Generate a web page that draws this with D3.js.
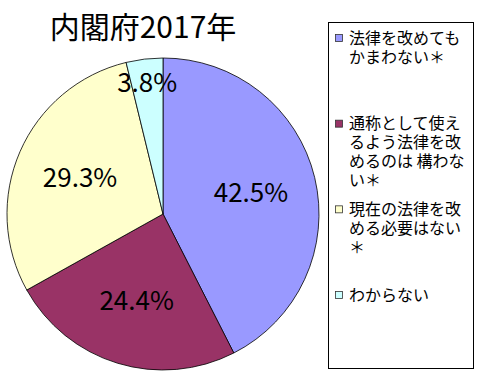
<!DOCTYPE html>
<html>
<head>
<meta charset="utf-8">
<script src="https://cdn.jsdelivr.net/npm/d3@7"></script>
<style>
  body { margin: 0; background: #fff; }
  text { font-family: "Noto Sans CJK JP", "Noto Sans", sans-serif; }
</style>
</head>
<body>
<div id="chart"></div>
<script>
var title = "内閣府2017年";
var categories = [
  "法律を改めてもかまわない＊",
  "通称として使えるよう法律を改めるのは 構わない＊",
  "現在の法律を改める必要はない＊",
  "わからない"
];
var values = [42.5, 24.4, 29.3, 3.8];
var colors = ["#9999ff", "#993366", "#ffffcc", "#ccffff"];

var width = 480, height = 377;
var cx = 163, cy = 214, radius = 156;

var svg = d3.select("#chart")
  .append("svg")
    .attr("width", width)
    .attr("height", height);

svg.append("rect")
    .attr("width", width)
    .attr("height", height)
    .attr("fill", "#fff");

svg.append("text")
    .attr("x", 143)
    .attr("y", 38)
    .attr("text-anchor", "middle")
    .style("font-size", "30px")
    .text(title);

var color = d3.scaleOrdinal()
    .domain(categories)
    .range(colors);

var pie = d3.pie()
    .sort(null)
    .value(function(d) { return d.value; });

var data = categories.map(function(c, i) { return {name: c, value: values[i]}; });
var arcs = pie(data);

var arc = d3.arc().innerRadius(0).outerRadius(radius);
var labelArc = d3.arc().innerRadius(radius * 0.58).outerRadius(radius * 0.58);
var smallArc = d3.arc().innerRadius(radius * 0.85).outerRadius(radius * 0.85);

var g = svg.append("g")
    .attr("transform", "translate(" + cx + "," + cy + ")");

g.selectAll("path")
  .data(arcs)
  .enter()
  .append("path")
    .attr("d", arc)
    .attr("fill", function(d) { return color(d.data.name); })
    .attr("stroke", "#000")
    .attr("stroke-width", 0.8);

g.selectAll("text.pct")
  .data(arcs)
  .enter()
  .append("text")
    .attr("class", "pct")
    .attr("transform", function(d) {
      var c = d.data.value < 5 ? smallArc.centroid(d) : labelArc.centroid(d);
      return "translate(" + c + ")";
    })
    .attr("text-anchor", "middle")
    .attr("dy", "0.36em")
    .style("font-size", "26px")
    .text(function(d) { return d3.format(".1f")(d.data.value) + "%"; });

// legend
var legend = svg.append("g");
legend.append("rect")
    .attr("x", 328.5)
    .attr("y", 22.5)
    .attr("width", 145)
    .attr("height", 346)
    .attr("fill", "#fff")
    .attr("stroke", "#000")
    .attr("stroke-width", 1);

var legendY = d3.scaleLinear()
    .domain([0, categories.length - 1])
    .range([38, 295]);

var maxW = 118;
categories.forEach(function(c, i) {
  var y0 = legendY(i);
  legend.append("rect")
      .attr("x", 335.5)
      .attr("y", y0 - 3.5)
      .attr("width", 7)
      .attr("height", 7)
      .attr("fill", color(c))
      .attr("stroke", "#333")
      .attr("stroke-width", 0.8);

  var t = legend.append("text")
      .attr("x", 349)
      .attr("y", y0)
      .style("font-size", "16px");

  // wrap characters by width
  var chars = Array.from(c), line = "", lines = [];
  var probe = t.append("tspan");
  chars.forEach(function(ch) {
    probe.text(line + ch);
    if (probe.node().getComputedTextLength() > maxW && line.length) {
      lines.push(line);
      line = ch;
    } else {
      line += ch;
    }
  });
  lines.push(line);
  probe.remove();

  lines.forEach(function(l, k) {
    t.append("tspan")
        .attr("x", 349)
        .attr("y", y0 + k * 19)
        .attr("dy", "0.36em")
        .text(l);
  });
});
</script>
</body>
</html>
